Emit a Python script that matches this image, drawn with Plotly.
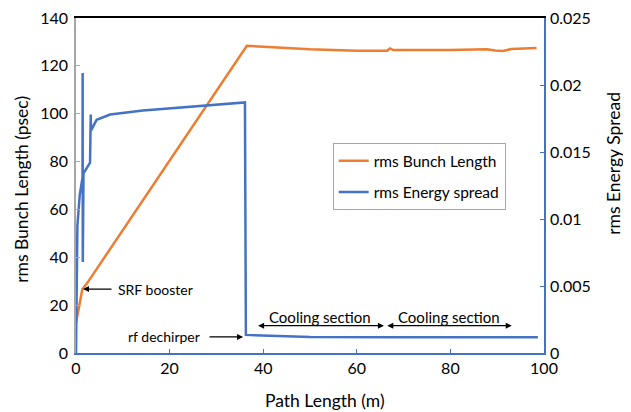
import plotly.graph_objects as go

# ---- data ----
bunch_x = [0, 1.35, 2.35, 36.5, 40, 50, 60, 65, 66.5, 67.1, 67.8, 80, 87.8, 89.5, 91.2, 93, 98.4]
bunch_len = [12.5, 26.6, 29.1, 128.4, 128.0, 126.9, 126.3, 126.1, 126.3, 127.3, 126.6, 126.6, 126.9, 126.4, 126.2, 127.0, 127.5]

espread_x = [0, 0.3, 0.8, 1.4, 1.42, 1.45, 1.6, 3.0, 3.15, 3.2, 4.4, 7.3, 14.3, 25, 36.1, 36.3, 42, 50, 70, 98.7]
espread = [0, 0.0095, 0.0118, 0.0131, 0.0209, 0.0068, 0.0134, 0.0142, 0.0178, 0.0166,
           0.0174, 0.0178, 0.0181, 0.0184, 0.0187, 0.00135, 0.0013, 0.0012, 0.00118, 0.00118]

x_ticks = [0, 20, 40, 60, 80, 100]
y1_ticks = [0, 20, 40, 60, 80, 100, 120, 140]
y2_ticks = [0, 0.005, 0.01, 0.015, 0.02, 0.025]
y2_labels = ["0", "0.005", "0.01", "0.015", "0.02", "0.025"]

ORANGE = "#ED7D31"
BLUE = "#4472C4"
FONT = "Lato"

fig = go.Figure()
fig.add_trace(go.Scatter(x=bunch_x, y=bunch_len, mode="lines", name="rms Bunch Length",
                         line=dict(color=ORANGE, width=2.5), xaxis="x", yaxis="y",
                         legendgroup="a"))
fig.add_trace(go.Scatter(x=espread_x, y=espread, mode="lines", name="rms Energy spread",
                         line=dict(color=BLUE, width=2.5), xaxis="x2", yaxis="y2",
                         legendgroup="b"))

# the page adds an 8px body margin, so the figure is 8px smaller and shifted
fig.update_layout(
    width=623, height=404,
    margin=dict(l=68, r=87, t=10, b=59),
    paper_bgcolor="white", plot_bgcolor="white",
    font=dict(family=FONT, size=16, color="#000000"),
    xaxis=dict(range=[0, 100], tickvals=x_ticks, showgrid=False, zeroline=False,
               showline=True, linecolor=BLUE, linewidth=1.5, ticks="inside",
               tickcolor=BLUE, ticklen=4, tickfont=dict(size=16), ticklabelstandoff=0,
               automargin=False, ticklabeloverflow="allow"),
    xaxis2=dict(range=[0, 100], overlaying="x", side="top", showgrid=False, zeroline=False,
                showline=True, linecolor="black", linewidth=1.5, ticks="",
                showticklabels=False, automargin=False),
    yaxis=dict(range=[0, 140], tickvals=y1_ticks, showgrid=False, zeroline=False,
               showline=True, linecolor="#A6A6A6", linewidth=1.5, ticks="inside",
               tickcolor="#A6A6A6", ticklen=4, tickfont=dict(size=16), ticklabelstandoff=3,
               automargin=False, ticklabeloverflow="allow"),
    yaxis2=dict(range=[0, 0.025], tickvals=y2_ticks, ticktext=y2_labels, overlaying="y",
                side="right", showgrid=False, zeroline=False, showline=True,
                linecolor=BLUE, linewidth=1.5, ticks="inside", tickcolor=BLUE, ticklen=4,
                tickfont=dict(size=16), ticklabelstandoff=1, automargin=False,
                ticklabeloverflow="allow"),
    showlegend=True,
    legend=dict(x=0.5485, y=0.626, xanchor="left", yanchor="top",
                bordercolor="#A6A6A6", borderwidth=1, bgcolor="white",
                font=dict(size=15.5), traceorder="grouped", tracegroupgap=8),
)

# axis titles
fig.add_annotation(text="rms Bunch Length (psec)", xref="paper", yref="paper",
                   x=-0.1154, y=0.49, textangle=-90, showarrow=False, font=dict(size=17.5),
                   xanchor="center", yanchor="middle")
fig.add_annotation(text="rms Energy Spread", xref="paper", yref="paper",
                   x=1.147, y=0.567, textangle=-90, showarrow=False, font=dict(size=17.5),
                   xanchor="center", yanchor="middle")
fig.add_annotation(text="Path Length (m)", xref="paper", yref="paper",
                   x=0.532, y=-0.143, showarrow=False, font=dict(size=17.5),
                   xanchor="center", yanchor="middle")

# SRF booster
fig.add_annotation(x=1.5, y=26.7, ax=7.9, ay=26.7, axref="x", ayref="y", xref="x", yref="y",
                   text="", showarrow=True, arrowhead=2, arrowsize=1, arrowwidth=1.2,
                   arrowcolor="black")
fig.add_annotation(x=8.6, y=26.7, xref="x", yref="y", text="SRF booster", showarrow=False,
                   xanchor="left", font=dict(size=14))
# rf dechirper
fig.add_annotation(x=35.7, y=6.7, ax=28.2, ay=6.7, axref="x", ayref="y", xref="x", yref="y",
                   text="", showarrow=True, arrowhead=2, arrowsize=1, arrowwidth=1.2,
                   arrowcolor="black")
fig.add_annotation(x=26.9, y=6.7, xref="x", yref="y", text="rf dechirper", showarrow=False,
                   xanchor="right", font=dict(size=14))
# cooling sections
for x0, x1 in [(38.6, 65.8), (66.2, 93.1)]:
    fig.add_annotation(x=x1, y=11.4, ax=x0, ay=11.4, axref="x", ayref="y", xref="x", yref="y",
                       text="", showarrow=True, arrowhead=2, startarrowhead=2,
                       arrowside="end+start", arrowsize=1, arrowwidth=1.2, arrowcolor="black")
    fig.add_annotation(x=(x0 + x1) / 2, y=15.2, xref="x", yref="y", text="Cooling section",
                       showarrow=False, font=dict(size=15))

fig.write_html("out.html")
